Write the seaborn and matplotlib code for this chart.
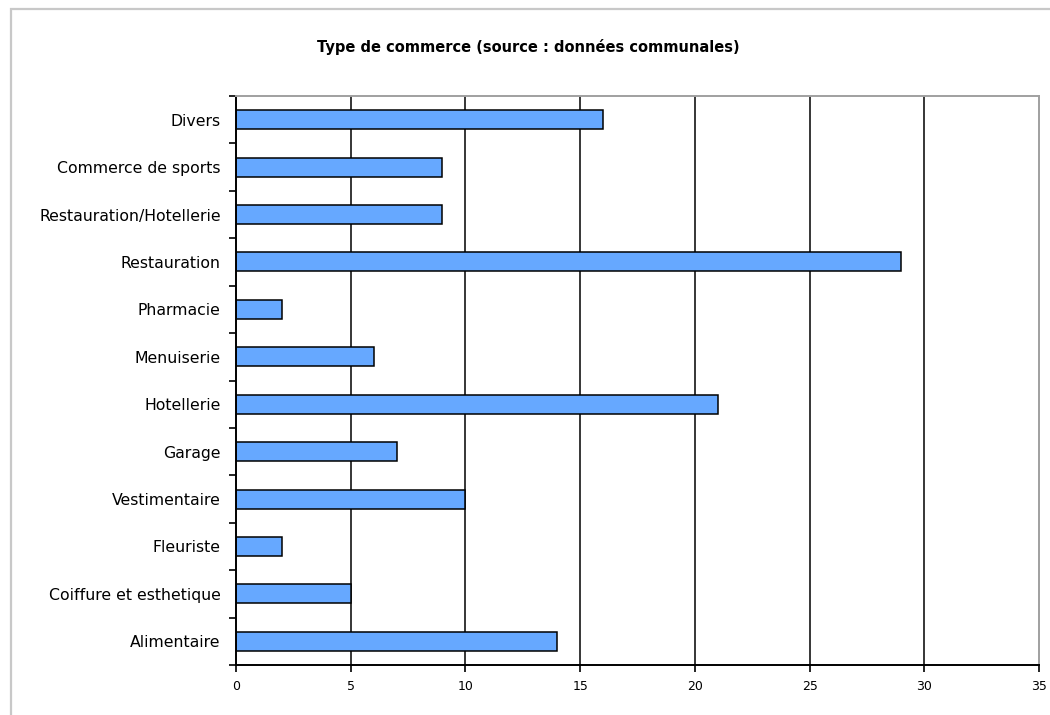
import matplotlib
matplotlib.use("Agg")
import matplotlib.pyplot as plt
import seaborn as sns
import numpy as np
from matplotlib.patches import Rectangle

# ── DATA ─────────────────────────────────────────────────────────────────────
categories = [
    "Divers", "Commerce de sports", "Restauration/Hotellerie", "Restauration",
    "Pharmacie", "Menuiserie", "Hotellerie", "Garage", "Vestimentaire",
    "Fleuriste", "Coiffure et esthetique", "Alimentaire",
]
counts = [16, 9, 9, 29, 2, 6, 21, 7, 10, 2, 5, 14]
x_ticks = [0, 5, 10, 15, 20, 25, 30, 35]
title = "Type de commerce (source : données communales)"

# ── STYLE ────────────────────────────────────────────────────────────────────
sns.set_style("white")
plt.rcParams["font.family"] = ["DejaVu Sans"]
BAR = "#66A8FF"
W, H = 1050, 715

fig = plt.figure(figsize=(W / 100, H / 100), dpi=100)

# outer chart border (light gray)
fig.patches.append(Rectangle((11 / W, -0.1), 1.2, 1.1 - 9 / H,
                             transform=fig.transFigure, fill=False,
                             edgecolor="#C8C8C8", lw=1.6))

ax = fig.add_axes([236 / W, 1 - 665 / H, (1039 - 236) / W, (665 - 96) / H])

sns.barplot(x=counts, y=categories, orient="h", color=BAR,
            edgecolor="black", linewidth=1.1, width=0.4, ax=ax,
            saturation=1)

ax.set_xlim(0, 35)
ax.set_ylim(len(categories) - 0.5, -0.5)
ax.set_xticks(x_ticks)
ax.set_xticklabels([str(t) for t in x_ticks], fontsize=9, color="black")
ax.set_yticks(range(len(categories)))
ax.set_yticklabels(categories, fontsize=11.3, color="black")
ax.tick_params(axis="y", length=0, pad=11)
ax.set_yticks(np.arange(-0.5, len(categories)), minor=True)
ax.tick_params(axis="y", which="minor", length=5, width=1.2, direction="out",
               color="black", left=True)
ax.tick_params(axis="x", length=5, width=1.2, direction="out", color="black",
               bottom=True, pad=6)

for t in x_ticks[1:-1]:
    ax.axvline(t, color="black", lw=1.1, zorder=0)

for side in ["left", "bottom"]:
    ax.spines[side].set_color("black")
    ax.spines[side].set_linewidth(1.4)
for side in ["top", "right"]:
    ax.spines[side].set_color("#A0A0A0")
    ax.spines[side].set_linewidth(1.4)

ax.set_xlabel("")
ax.set_ylabel("")

fig.text(528 / W, 1 - 47 / H, title, ha="center", va="center",
         fontsize=10.5, fontweight="bold", color="black")

fig.savefig("out.png", dpi=100)
